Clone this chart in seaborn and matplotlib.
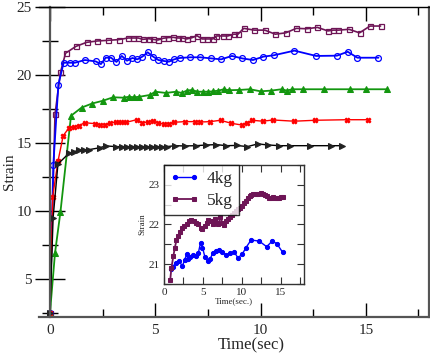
import numpy as np
import pandas as pd
import matplotlib
matplotlib.use("Agg")
import matplotlib.pyplot as plt
from matplotlib.ticker import MultipleLocator
import seaborn as sns

sns.set_theme(style="ticks")
plt.rcParams["font.family"] = ["Liberation Serif", "DejaVu Serif"]

# ---- main chart data (time in sec, strain) ----
t_purple = [0, 0.24, 0.5, 0.74, 1.23, 1.74, 2.24, 2.76, 3.26, 3.71, 3.95, 4.19, 4.42, 4.68, 4.9, 5.13,
            5.37, 5.61, 5.84, 6.08, 6.29, 6.5, 6.76, 6.98, 7.23, 7.46, 7.74, 7.9, 8.2, 8.45, 8.72, 8.93,
            9.2, 9.7, 10.2, 10.7, 11.2, 11.7, 12.2, 12.7, 13.2, 13.45, 13.7, 14.2, 14.7, 15.2, 15.7]
s_purple = [2.5, 17.1, 20.2, 21.6, 22.1, 22.4, 22.5, 22.55, 22.6, 22.72, 22.72, 22.72, 22.62, 22.67, 22.62, 22.57,
            22.7, 22.75, 22.77, 22.72, 22.72, 22.65, 22.75, 22.89, 22.65, 22.65, 22.65, 22.87, 22.87, 22.87, 23.0, 23.0,
            23.43, 23.3, 23.3, 23.0, 23.1, 23.43, 23.4, 23.5, 23.24, 23.3, 23.3, 23.36, 23.1, 23.6, 23.6]

t_blue = [0, 0.16, 0.4, 0.65, 0.95, 1.18, 1.66, 2.17, 2.42, 2.65, 2.9, 3.16, 3.41, 3.66, 3.92, 4.15, 4.39,
          4.64, 4.9, 5.15, 5.4, 5.65, 5.9, 6.16, 6.64, 7.14, 7.66, 8.13, 8.64, 9.13, 9.64, 10.14, 10.63,
          11.61, 12.64, 13.63, 14.14, 14.6, 15.6]
s_blue = [2.5, 13.4, 19.3, 20.9, 20.9, 20.9, 21.1, 21.0, 20.8, 21.27, 21.27, 20.96, 21.4, 21.05, 21.25, 21.15, 21.35,
          21.67, 21.35, 21.1, 21.03, 20.98, 21.15, 21.25, 21.3, 21.3, 21.22, 21.15, 21.4, 21.22, 21.1, 21.35, 21.45,
          21.79, 21.4, 21.42, 21.71, 21.27, 21.27]

t_green = [0, 0.24, 0.5, 1.0, 1.5, 2.0, 2.5, 3.0, 3.5, 3.75, 4.0, 4.25, 4.75, 5.0, 5.5, 6.0, 6.25, 6.5, 6.75,
           7.0, 7.25, 7.5, 7.75, 8.0, 8.25, 8.5, 9.0, 9.5, 10.0, 10.5, 11.0, 11.25, 11.5, 12.0, 13.0, 14.25,
           15.0, 16.0]
s_green = [2.5, 6.9, 9.95, 17.0, 17.6, 17.9, 18.1, 18.36, 18.33, 18.4, 18.36, 18.4, 18.53, 18.77, 18.68, 18.77,
           18.68, 18.85, 18.9, 18.77, 18.77, 18.77, 18.8, 18.85, 18.95, 18.88, 18.9, 18.95, 18.8, 18.85, 18.95,
           18.85, 18.95, 18.95, 18.95, 18.95, 18.95, 18.95]

t_red = [0, 0.13, 0.38, 0.63, 0.9, 1.15, 1.38, 1.65, 2.13, 2.38, 2.62, 2.87, 3.12, 3.38, 3.63, 4.14, 4.39,
         4.64, 4.9, 5.15, 5.4, 5.65, 5.9, 6.4, 6.87, 7.14, 7.62, 8.1, 8.6, 9.11, 9.35, 9.6, 10.1, 10.6, 11.6,
         12.6, 14.1, 15.1]
s_red = [2.5, 11.05, 13.65, 15.54, 16.1, 16.18, 16.28, 16.49, 16.42, 16.32, 16.35, 16.49, 16.52, 16.52, 16.52,
         16.72, 16.49, 16.54, 16.59, 16.49, 16.37, 16.42, 16.52, 16.57, 16.57, 16.54, 16.57, 16.67, 16.45, 16.32,
         16.49, 16.67, 16.6, 16.69, 16.6, 16.67, 16.71, 16.71]

t_black = [0, 0.15, 0.38, 0.9, 1.14, 1.38, 1.62, 1.86, 2.37, 2.65, 3.16, 3.4, 3.64, 3.88, 4.12, 4.36, 4.6,
           4.84, 5.08, 5.32, 5.56, 5.92, 6.4, 6.92, 7.43, 7.9, 8.37, 8.87, 9.37, 9.87, 10.37, 10.9, 11.4,
           12.37, 13.35, 13.85]
s_black = [2.5, 9.5, 13.45, 14.24, 14.36, 14.46, 14.5, 14.51, 14.65, 14.78, 14.73, 14.73, 14.73, 14.73, 14.73,
           14.73, 14.73, 14.73, 14.73, 14.73, 14.73, 14.8, 14.78, 14.8, 14.85, 14.88, 14.8, 14.82, 14.73, 14.93,
           14.85, 14.8, 14.8, 14.8, 14.8, 14.8]

# ---- inset data ----
t_4kg = [0.85, 1.1, 1.5, 1.95, 2.35, 2.65, 2.9, 3.1, 3.4, 3.75, 4.1, 4.4, 4.7, 4.95, 5.25, 5.6, 5.9, 6.25,
         6.65, 7.05, 7.5, 8.0, 8.45, 9.05, 9.5, 10.05, 10.55, 11.2, 12.25, 13.2, 13.9, 14.5, 15.25]
s_4kg = [20.89, 20.92, 21.04, 21.08, 20.95, 21.1, 21.25, 21.12, 21.19, 21.23, 21.2, 21.27, 21.54, 21.42, 21.19,
         21.08, 21.12, 21.27, 21.34, 21.35, 21.31, 21.23, 21.28, 21.3, 21.16, 21.25, 21.42, 21.61, 21.58, 21.44,
         21.58, 21.52, 21.3]

t_5kg = [0.8, 0.95, 1.2, 1.4, 1.6, 1.85, 2.1, 2.35, 2.6, 2.9, 3.2, 3.5, 3.8, 4.1, 4.4, 4.7, 4.95, 5.25, 5.5,
         5.7, 6.0, 6.3, 6.55, 6.8, 7.0, 7.25, 7.5, 7.7, 7.95, 8.2, 8.45, 8.7, 8.95, 9.25, 9.5, 9.75, 10.0,
         10.25, 10.5, 10.75, 11.0, 11.25, 11.5, 11.8, 12.1, 12.45, 12.7, 12.95, 13.2, 13.5, 13.75, 14.0, 14.25,
         14.5, 14.8, 15.05, 15.25]
s_5kg = [20.6, 20.9, 21.2, 21.42, 21.6, 21.7, 21.82, 21.9, 21.95, 22.02, 22.08, 22.11, 22.08, 22.05, 22.0,
         21.92, 21.88, 21.95, 22.05, 22.12, 22.08, 22.0, 22.15, 22.05, 22.02, 22.18, 22.05, 21.98, 22.08, 22.13,
         22.18, 22.24, 22.28, 22.33, 22.38, 22.42, 22.47, 22.55, 22.6, 22.68, 22.72, 22.75, 22.76, 22.77, 22.78,
         22.8, 22.77, 22.74, 22.72, 22.68, 22.66, 22.7, 22.68, 22.66, 22.68, 22.69, 22.7]

MAROON = "#6e1556"
GREEN = "#13960f"

fig = plt.figure(figsize=(4.31, 3.54), dpi=100)
ax = fig.add_axes([39 / 431, 37 / 354, 390 / 431, 310 / 354])

sns.lineplot(x=t_purple, y=s_purple, ax=ax, sort=False, color=MAROON, lw=1.2, marker="s", ms=3.6,
             mfc="none", mec=MAROON, mew=0.9)
sns.lineplot(x=t_blue, y=s_blue, ax=ax, sort=False, color="blue", lw=1.3, marker="o", ms=4.2,
             mfc="none", mec="blue", mew=0.9)
sns.lineplot(x=t_green, y=s_green, ax=ax, sort=False, color=GREEN, lw=1.3, marker="^", ms=4.2,
             mfc=GREEN, mec=GREEN)
sns.lineplot(x=t_red, y=s_red, ax=ax, sort=False, color="red", lw=1.0, marker="X", ms=3.5,
             mfc="red", mec="red")
sns.lineplot(x=t_black, y=s_black, ax=ax, sort=False, color="black", lw=1.0, marker=">", ms=4,
             mfc="#222222", mec="#222222")

ax.set_xlim(-0.52, 18.0)
ax.set_ylim(2.2, 25)
ax.xaxis.set_major_locator(MultipleLocator(5))
ax.xaxis.set_minor_locator(MultipleLocator(2.5))
ax.yaxis.set_major_locator(MultipleLocator(5))
ax.yaxis.set_minor_locator(MultipleLocator(2.5))
ax.spines["left"].set_position(("data", 0))
for side in ["left", "bottom", "right"]:
    ax.spines[side].set_color("#555555")
    ax.spines[side].set_linewidth(1.6)
ax.spines["top"].set_color("black")
ax.spines["top"].set_linewidth(1.0)
ax.tick_params(axis="x", which="both", direction="in", top=True, bottom=True, labelsize=11, pad=5,
               color="black", width=1.0)
ax.tick_params(axis="x", which="major", length=10)
ax.tick_params(axis="x", which="minor", length=6)
ax.tick_params(axis="y", which="both", direction="inout", right=False, labelsize=11, pad=2,
               color="black", width=1.0)
ax.tick_params(axis="y", which="major", length=22)
ax.tick_params(axis="y", which="minor", length=11)
ax.set_xlabel("Time(sec)", fontsize=12)
ax.set_ylabel("Strain", fontsize=11)
ax.xaxis.set_label_coords(0.545, -0.067)
ax.yaxis.set_label_coords(-0.06, 0.47)

# ---- inset ----
ins = fig.add_axes([164 / 431, 70 / 354, 140 / 431, 119 / 354])
ins.set_facecolor("white")
sns.lineplot(x=t_4kg, y=s_4kg, ax=ins, sort=False, color="blue", lw=1.0, marker="o", ms=3,
             mfc="blue", mec="blue", label="4kg")
sns.lineplot(x=t_5kg, y=s_5kg, ax=ins, sort=False, color=MAROON, lw=1.3, marker="s", ms=2.5,
             mfc=MAROON, mec=MAROON, label="5kg")
ins.set_xlim(0, 18)
ins.set_ylim(20.5, 23.5)
ins.xaxis.set_major_locator(MultipleLocator(5))
ins.xaxis.set_minor_locator(MultipleLocator(2.5))
ins.yaxis.set_major_locator(MultipleLocator(1))
ins.yaxis.set_minor_locator(MultipleLocator(0.5))
ins.tick_params(which="both", direction="in", top=True, right=True, labelsize=8, pad=3,
                length=5, width=0.8, color="#333333")
for side in ins.spines.values():
    side.set_color("#333333")
    side.set_linewidth(1.0)
ins.set_xlabel("Time(sec.)", fontsize=6.5, labelpad=0)
ins.set_ylabel("Strain", fontsize=6.5, labelpad=2)
leg = ins.legend(loc="upper left", fontsize=12.5, numpoints=2, frameon=True, fancybox=False,
                 borderaxespad=0, handlelength=1.7, handletextpad=0.4, borderpad=0.35,
                 labelspacing=0.3)
leg.get_frame().set_edgecolor("black")
leg.get_frame().set_linewidth(1.0)

fig.savefig("out.png", dpi=100)
